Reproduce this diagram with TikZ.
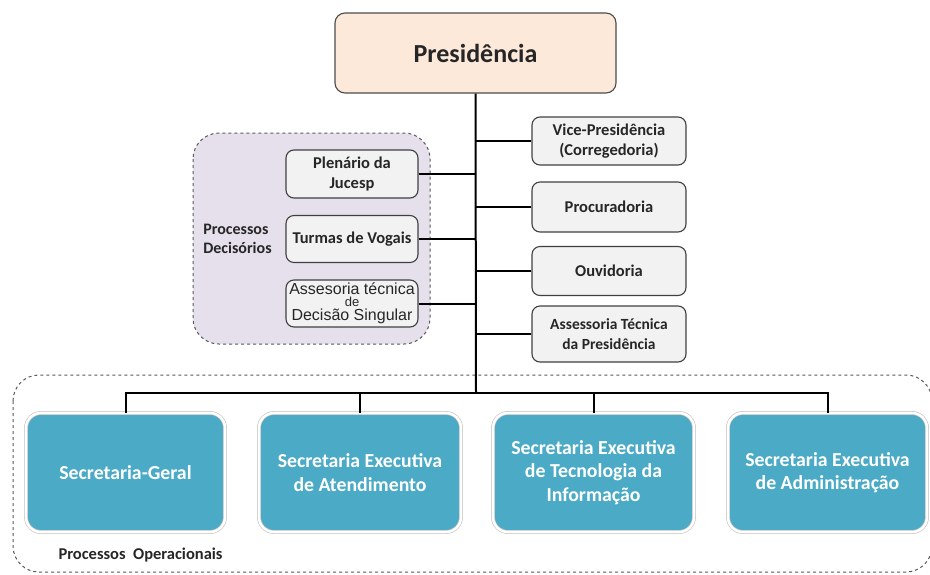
\documentclass[tikz,border=0pt]{standalone}
\usepackage{fontspec}
\setmainfont{Carlito}
\newfontfamily\arialf{Liberation Sans}
\definecolor{presfill}{HTML}{FCE9DA}
\definecolor{boxfill}{HTML}{F2F2F2}
\definecolor{purp}{HTML}{E6E0EC}
\definecolor{blu}{HTML}{4BAAC6}
\definecolor{txt}{HTML}{262626}
\begin{document}
\begin{tikzpicture}[x=1pt,y=-1pt,
  graybox/.style={draw=black!75,line width=1.1pt,fill=boxfill,rounded corners=8pt,
    minimum width=154pt,align=center,inner sep=1pt,text=txt,font=\bfseries\fontsize{16.5}{20.5}\selectfont},
  leftbox/.style={graybox,minimum width=132pt},
  bluebox/.style={draw=black!25,double=white,double distance=2.6pt,line width=0.6pt,fill=blu,
    rounded corners=15pt,minimum height=119pt,align=center,text=white,
    font=\bfseries\fontsize{19.8}{23.5}\selectfont},
  conn/.style={black,line width=2pt},
  region/.style={dashed,draw=black!65,line width=1pt,rounded corners=26pt}]
\useasboundingbox (0,0) rectangle (930,574);
% regions
\draw[region,fill=purp] (193,133) rectangle (430,344);
\draw[region] (13,375) rectangle (932,572);
% presidencia
\node[draw=black!70,line width=1.1pt,fill=presfill,rounded corners=10pt,minimum width=281pt,minimum height=80pt,
  text=txt,font=\bfseries\fontsize{26}{30}\selectfont] (pres) at (475.5,53) {Presidência};
\coordinate (tb) at (476,393);
% right boxes
\node[graybox,minimum height=48pt] (vice) at (609,141) {Vice-Presidência\\(Corregedoria)};
\node[graybox,minimum height=50pt] (proc) at (609,207) {Procuradoria};
\node[graybox,minimum height=49pt] (ouv) at (609,271) {Ouvidoria};
\node[graybox,minimum height=56pt,font=\bfseries\fontsize{15.5}{20}\selectfont] (atp) at (609,334) {Assessoria Técnica\\da Presidência};
% left boxes
\node[leftbox,minimum height=48pt] (plen) at (352,174) {Plenário da\\Jucesp};
\node[leftbox,minimum height=47pt] (turm) at (352,239) {Turmas de Vogais};
\node[leftbox,minimum height=47pt,font=\arialf\fontsize{16}{14}\selectfont] (ades) at (352,303.5)
  {Assesoria técnica\\[-2pt]{\fontsize{13}{11}\selectfont de}\\Decisão Singular};
\node[text=txt,font=\bfseries\fontsize{16}{19}\selectfont,align=left] (pdec) at (237.5,239) {Processos\\Decisórios};
% blue boxes
\node[bluebox,minimum width=199pt] (sg) at (125.5,472.5) {Secretaria-Geral};
\node[bluebox,minimum width=202pt] (sa) at (360,472.5) {Secretaria Executiva\\de Atendimento};
\node[bluebox,minimum width=201pt] (st) at (593.5,472.5) {Secretaria Executiva\\de Tecnologia da\\Informação};
\node[bluebox,minimum width=199pt] (sad) at (827.5,472.5) {Secretaria Executiva\\de Administração};
\node[text=txt,font=\bfseries\fontsize{16.5}{19}\selectfont,anchor=west] (pop) at (55,555) {Processos~~Operacionais};
% connectors
\draw[conn] (pres.south) -- (tb);
\foreach \n in {vice,proc,ouv,atp}{\draw[conn] (\n.west) -- (\n.west -| tb);}
\foreach \n in {plen,turm,ades}{\draw[conn] (\n.east) -- (\n.east -| tb);}
\draw[conn] (sg.north) |- (tb) -| (sad.north);
\draw[conn] (sa.north) -- (sa.north |- tb);
\draw[conn] (st.north) -- (st.north |- tb);
\end{tikzpicture}
\end{document}
